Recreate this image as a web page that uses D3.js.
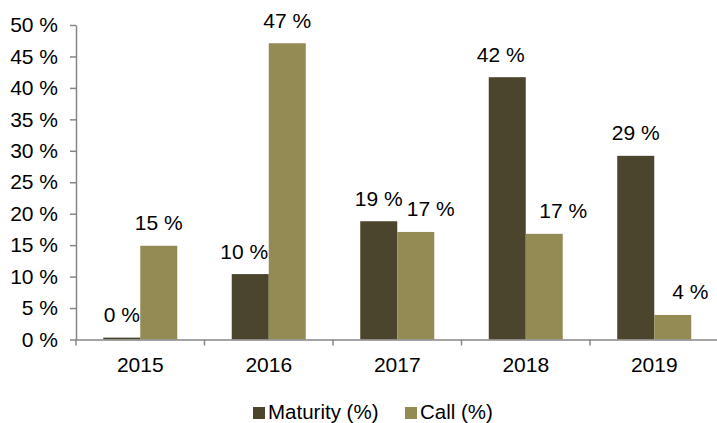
<!DOCTYPE html>
<html>
<head>
<meta charset="utf-8">
<script src="https://cdn.jsdelivr.net/npm/d3@7"></script>
<style>
  body { margin: 0; background: #fff; }
  text { font-family: "Liberation Sans", Arial, sans-serif; font-size: 21px; fill: #000; }
</style>
</head>
<body>
<svg width="717" height="423"></svg>
<script>
const years = ['2015', '2016', '2017', '2018', '2019'];
const maturity = [0.3, 10.4, 18.8, 41.7, 29.2];
const call = [14.9, 47.1, 17.1, 16.8, 3.9];
const yTicks = [0, 5, 10, 15, 20, 25, 30, 35, 40, 45, 50];
const seriesNames = ['Maturity (%)', 'Call (%)'];
const colors = ['#4a452c', '#948a54'];

// label nudges (px), as in the original layout
const labelShift = [[0, -6, 0, -6.5, 0], [0, 0, 15, 19, 17.5]];

const svg = d3.select('svg');
const axisColor = '#868686';

const x = d3.scaleBand()
	.domain(years)
	.range([76, 718.5])
	.padding(0);

const y = d3.scaleLinear()
	.domain([0, 50])
	.range([339.5, 25]);

const barW = 37;
const series = [maturity, call];

// bars
series.forEach((vals, s) => {
	const g = svg.append('g');
	g.selectAll('rect').data(vals)
		.enter().append('rect')
			.attr('x', (d, i) => x(years[i]) + x.bandwidth() / 2 - barW + s * barW)
			.attr('y', d => y(d))
			.attr('width', barW)
			.attr('height', d => y(0) - y(d))
			.attr('fill', colors[s]);

	g.selectAll('text').data(vals)
		.enter().append('text')
			.attr('x', (d, i) => x(years[i]) + x.bandwidth() / 2 - barW / 2 + s * barW + labelShift[s][i])
			.attr('y', d => y(d) - 15.5)
			.attr('text-anchor', 'middle')
			.text(d => Math.round(d) + ' %');
});

// y axis
const yAxis = svg.append('g')
	.attr('transform', 'translate(76,0)')
	.call(d3.axisLeft(y)
		.tickValues(yTicks)
		.tickFormat(d => d + ' %')
		.tickSize(6)
		.tickSizeOuter(0)
		.tickPadding(12));
yAxis.selectAll('text').style('font-size', '21px').attr('fill', '#000');
yAxis.selectAll('line, path').attr('stroke', axisColor).attr('stroke-width', 1.5);

// x axis
const xAxis = svg.append('g')
	.attr('transform', `translate(0,${y(0)})`)
	.call(d3.axisBottom(x).tickSize(0).tickSizeOuter(0).tickPadding(17.5));
xAxis.selectAll('text').style('font-size', '21px').attr('fill', '#000');
xAxis.select('.domain').attr('stroke', axisColor).attr('stroke-width', 1.5);

xAxis.selectAll('line.sep').data(years)
	.enter().append('line')
		.attr('class', 'sep')
		.attr('x1', d => x(d))
		.attr('x2', d => x(d))
		.attr('y1', 0)
		.attr('y2', 6)
		.attr('stroke', axisColor)
		.attr('stroke-width', 1.5);

// legend
const legendX = [253, 405];
const legend = svg.append('g');
seriesNames.forEach((name, i) => {
	legend.append('rect')
		.attr('x', legendX[i])
		.attr('y', 407)
		.attr('width', 12)
		.attr('height', 12)
		.attr('fill', colors[i]);
	legend.append('text')
		.attr('x', legendX[i] + 15)
		.attr('y', 419)
		.style('font-size', '20.5px')
		.text(name);
});
</script>
</body>
</html>
